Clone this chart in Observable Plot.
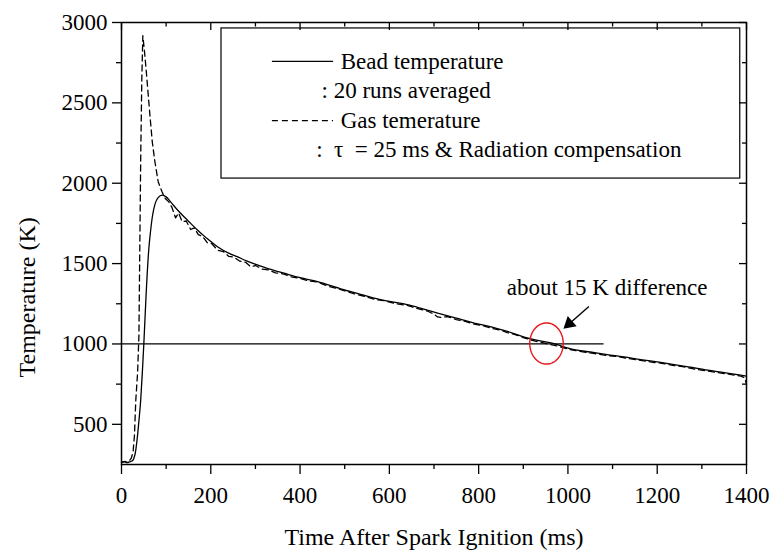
<!DOCTYPE html>
<html><head><meta charset="utf-8">
<script src="https://cdn.jsdelivr.net/npm/d3@7"></script>
<script src="https://cdn.jsdelivr.net/npm/@observablehq/plot@0.6"></script>
<style>
body{margin:0;background:#fff}
</style>
</head><body><div id="chart"></div>
<script>
// ---- data ----
const beadTime = [0, 6, 12, 18, 22, 25, 28, 32, 35, 39, 43, 47, 50, 55, 61, 65, 69, 75, 82, 91, 100, 110, 125, 140, 155, 170, 190, 215, 240, 259, 280, 304, 330, 364, 400, 439, 491, 530, 566, 600, 640, 675, 708, 750, 790, 830, 864, 917, 962, 1014, 1050, 1088, 1125, 1163, 1200, 1238, 1275, 1313, 1350, 1387, 1400];
const beadTemp = [265, 268, 262, 266, 270, 275, 290, 340, 407, 520, 650, 840, 1000, 1300, 1585, 1700, 1790, 1870, 1910, 1926, 1915, 1884, 1835, 1791, 1750, 1709, 1660, 1605, 1565, 1543, 1517, 1492, 1467, 1440, 1412, 1388, 1343, 1313, 1285, 1265, 1244, 1218, 1192, 1160, 1130, 1105, 1078, 1031, 1006, 965, 950, 934, 920, 903, 888, 872, 855, 837, 822, 806, 800];

const gasTime = [0, 8, 14, 18, 22, 26, 29, 32, 36, 39, 41, 43, 45.5, 47.8, 50, 52.4, 56.3, 60, 63.7, 69, 74.9, 82.3, 91, 98, 106, 113, 121, 128, 136, 145, 155, 163, 172, 182, 192, 203, 215, 228, 240, 252, 265, 278, 289, 300, 315, 330, 345, 364, 380, 400, 420, 439, 460, 491, 520, 545, 566, 590, 615, 640, 660, 685, 700, 708, 715, 730, 750, 770, 790, 810, 830, 850, 864, 880, 900, 917, 935, 950, 962, 980, 1000, 1014, 1040, 1060, 1088, 1110, 1130, 1163, 1190, 1210, 1238, 1260, 1285, 1313, 1340, 1360, 1387, 1396, 1400];
const gasTemp = [262, 270, 262, 275, 290, 330, 430, 650, 820, 1050, 1600, 2150, 2650, 2918, 2860, 2794, 2670, 2546, 2422, 2256, 2132, 2008, 1946, 1905, 1884, 1850, 1785, 1815, 1760, 1765, 1712, 1722, 1680, 1668, 1630, 1622, 1584, 1575, 1545, 1540, 1515, 1508, 1481, 1488, 1466, 1460, 1442, 1435, 1418, 1408, 1392, 1385, 1362, 1338, 1313, 1296, 1278, 1268, 1250, 1240, 1222, 1205, 1185, 1168, 1165, 1170, 1152, 1140, 1123, 1113, 1097, 1086, 1070, 1060, 1040, 1025, 1012, 1003, 996, 985, 968, 960, 948, 940, 928, 922, 912, 898, 886, 880, 866, 857, 843, 832, 820, 812, 800, 790, 750];

const xMajorTicks = [0, 200, 400, 600, 800, 1000, 1200, 1400];
const xMinorTicks = [100, 300, 500, 700, 900, 1100, 1300];
const yMajorTicks = [500, 1000, 1500, 2000, 2500, 3000];
const yMinorTicks = [750, 1250, 1750, 2250, 2750];

const legendLabels = ["Bead temperature", ": 20 runs averaged", "Gas temerature", ":\u00a0 \u03c4\u00a0 = 25 ms & Radiation compensation"];
const annotationText = "about 15 K difference";
const xTitle = "Time After Spark Ignition (ms)";
const yTitle = "Temperature (K)";
const referenceLevel = 1000;

// ---- layout ----
const W = 775, H = 553;
const mL = 121, mR = 29, mT = 22, mB = 89;
const frameW = W - mL - mR, frameH = H - mT - mB;
const FS = 23;

const bead = beadTime.map((t, i) => ({t, T: beadTemp[i]}));
const gas = gasTime.map((t, i) => ({t, T: gasTemp[i]}));

// annotation anchors in data units
const ellipse = {cx: 952, cy: 1003, rx: 37.5, ry: 128};
const ellipsePts = d3.range(0, 73).map(i => {
  const a = i / 72 * 2 * Math.PI;
  return {t: ellipse.cx + ellipse.rx * Math.cos(a), T: ellipse.cy + ellipse.ry * Math.sin(a)};
});
const arrow = {t1: 1047, T1: 1233, t2: 1003, T2: 1126};

const chart = Plot.plot({
  width: W, height: H,
  marginLeft: mL, marginRight: mR, marginTop: mT, marginBottom: mB,
  style: {fontFamily: "'Liberation Serif', 'Times New Roman', serif", fontSize: FS + "px", background: "white", color: "black", overflow: "visible"},
  x: {domain: [0, 1400]},
  y: {domain: [250, 3000]},
  marks: [
    // reference line at 1000 K
    Plot.ruleY([referenceLevel], {x1: 0, x2: 1081, stroke: "black", strokeWidth: 1.2}),
    // curves
    Plot.line(gas, {x: "t", y: "T", stroke: "black", strokeWidth: 1.3, strokeDasharray: "6,4"}),
    Plot.line(bead, {x: "t", y: "T", stroke: "black", strokeWidth: 1.3, curve: "monotone-x"}),
    // red ellipse
    Plot.line(ellipsePts, {x: "t", y: "T", stroke: "#e8161b", strokeWidth: 1.4, curve: "linear"}),
    // arrow
    Plot.link([arrow], {x1: "t1", y1: "T1", x2: "t2", y2: "T2", stroke: "black", strokeWidth: 1.4}),
    Plot.dot([arrow], {x: "t2", y: "T2", symbol: "triangle", r: 5, fill: "black", stroke: "none", rotate: 228.6}),
    Plot.text([annotationText], {x: 863, y: 1352, text: d => d, textAnchor: "start", fontSize: FS, fill: "black"}),
    // legend
    Plot.rect([0], {x1: 224, x2: 1386, y1: 2029, y2: 2963, fill: "white", stroke: "black", strokeWidth: 1.2}),
    Plot.ruleY([2758], {x1: 338, x2: 475, stroke: "black", strokeWidth: 1.3}),
    Plot.ruleY([2389], {x1: 338, x2: 475, stroke: "black", strokeWidth: 1.3, strokeDasharray: "6,4"}),
    Plot.text([legendLabels[0]], {x: 491, y: 2756, text: d => d, textAnchor: "start", fontSize: FS, fill: "black"}),
    Plot.text([legendLabels[1]], {x: 448, y: 2574, text: d => d, textAnchor: "start", fontSize: FS, fill: "black"}),
    Plot.text([legendLabels[2]], {x: 491, y: 2391, text: d => d, textAnchor: "start", fontSize: FS, fill: "black"}),
    Plot.text([legendLabels[3]], {x: 436, y: 2209, text: d => d, textAnchor: "start", fontSize: FS, fill: "black"}),
    // axes
    Plot.frame({stroke: "black", strokeWidth: 1.5}),
    Plot.axisX(xMajorTicks, {anchor: "bottom", tickSize: 10, tickPadding: 12, strokeWidth: 1.3, fontSize: FS, label: null, tickFormat: d => `${d}`}),
    Plot.axisX(xMinorTicks, {anchor: "bottom", tickSize: 5, tickFormat: () => "", strokeWidth: 1.3, label: null}),
    Plot.axisY(yMajorTicks, {anchor: "left", tickSize: 9, tickPadding: 5, strokeWidth: 1.3, fontSize: FS, label: null, tickFormat: d => `${d}`}),
    Plot.axisY(yMinorTicks, {anchor: "left", tickSize: 5, tickFormat: () => "", strokeWidth: 1.3, label: null}),
    // mirrored inward ticks (top / right)
    Plot.tickX(xMajorTicks, {x: d => d, insetBottom: frameH - 8, stroke: "black", strokeWidth: 1.3}),
    Plot.tickX(xMinorTicks, {x: d => d, insetBottom: frameH - 4.5, stroke: "black", strokeWidth: 1.3}),
    Plot.tickY(yMajorTicks, {y: d => d, insetLeft: frameW - 7, stroke: "black", strokeWidth: 1.3}),
    Plot.tickY(yMinorTicks, {y: d => d, insetLeft: frameW - 4, stroke: "black", strokeWidth: 1.3}),
    // axis titles
    Plot.text([xTitle], {frameAnchor: "bottom", dy: 80, text: d => d, fontSize: 24, fill: "black"}),
    Plot.text([yTitle], {x: -212, y: 1290, rotate: -90, text: d => d, fontSize: 24, fill: "black"})
  ]
});
document.getElementById("chart").appendChild(chart);
</script>
</body></html>
